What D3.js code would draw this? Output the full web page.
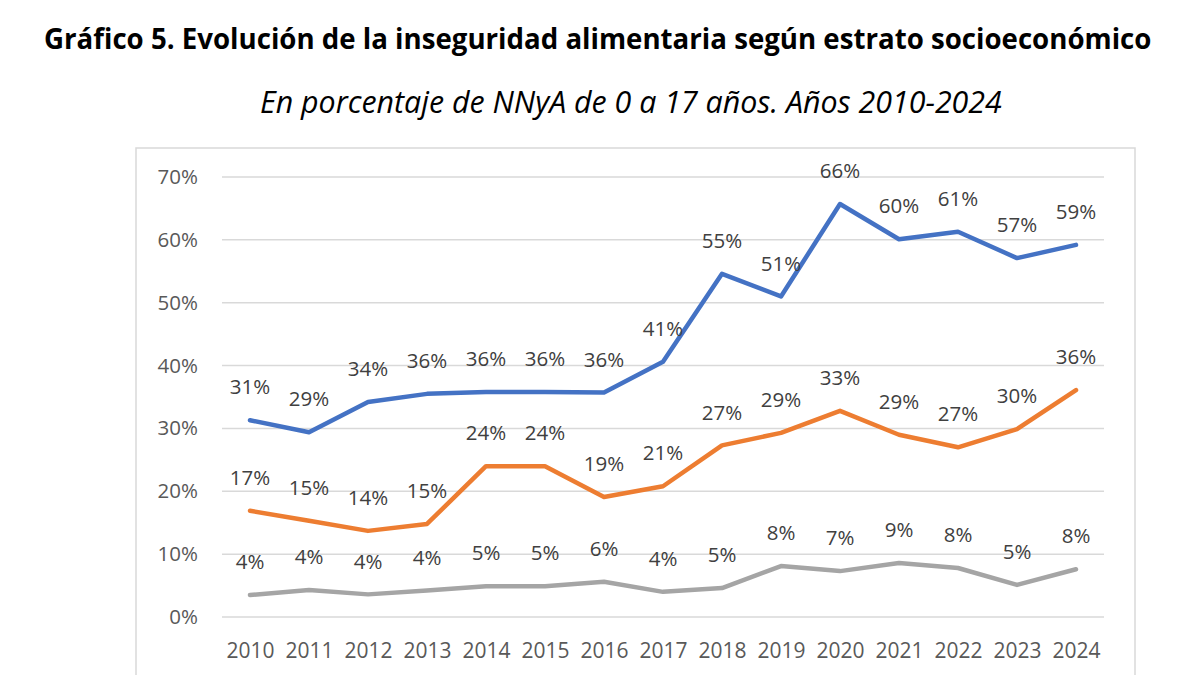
<!DOCTYPE html>
<html><head><meta charset="utf-8">
<script src="https://cdn.jsdelivr.net/npm/d3@7"></script>
<style>body{margin:0;background:#fff}svg{display:block}</style>
</head><body>
<svg id="c" width="1200" height="675"></svg>
<script>
const years = [2010,2011,2012,2013,2014,2015,2016,2017,2018,2019,2020,2021,2022,2023,2024];
const bajo  = [31.3,29.4,34.2,35.5,35.8,35.8,35.7,40.6,54.6,51.0,65.7,60.1,61.3,57.1,59.2];
const medio = [16.9,15.3,13.7,14.8,24.0,24.0,19.1,20.8,27.3,29.3,32.8,29.0,27.0,29.9,36.1];
const alto  = [3.5,4.3,3.6,4.2,4.9,4.9,5.6,4.0,4.6,8.1,7.3,8.6,7.8,5.1,7.6];
const yTicks = [0,10,20,30,40,50,60,70];
const title = "Gráfico 5. Evolución de la inseguridad alimentaria según estrato socioeconómico";
const subtitle = "En porcentaje de NNyA de 0 a 17 años. Años 2010-2024";

const series = [
  {name:"bajo", values:bajo, color:"#4472C4"},
  {name:"medio", values:medio, color:"#ED7D31"},
  {name:"alto", values:alto, color:"#A5A5A5"}
];

const svg = d3.select("#c");
const font = "'Open Sans', 'Noto Sans', sans-serif";

function fitText(sel, target){
  const w = sel.node().getComputedTextLength();
  const fs = parseFloat(sel.attr("font-size"));
  sel.attr("font-size", fs*target/w);
}
const t = svg.append("text").attr("x",44).attr("y",49).attr("font-family",font)
  .attr("font-weight","bold").attr("font-size",24).attr("fill","#000").text(title);
fitText(t, 1108);
const st = svg.append("text").attr("x",260).attr("y",113).attr("font-family",font)
  .attr("font-style","italic").attr("font-size",24).attr("fill","#000").text(subtitle);
fitText(st, 742);

// chart border
svg.append("rect").attr("x",136).attr("y",148).attr("width",999).attr("height",560)
  .attr("fill","none").attr("stroke","#d9d9d9").attr("stroke-width",1.5);

const x = d3.scalePoint().domain(years).range([250,1076]);
const y = d3.scaleLinear().domain([0,70]).range([617,177]);

// gridlines
svg.append("g").selectAll("line").data(yTicks).join("line")
  .attr("x1",222).attr("x2",1104).attr("y1",d=>y(d)).attr("y2",d=>y(d))
  .attr("stroke","#d9d9d9").attr("stroke-width",1.5);

// y axis labels
const yAxis = d3.axisLeft(y).tickValues(yTicks).tickFormat(d=>d+"%").tickSize(0).tickPadding(0);
const ya = svg.append("g").attr("transform","translate(198,0)").call(yAxis);
ya.select(".domain").remove();
ya.selectAll("text").attr("font-family",font).attr("font-size",20.5).attr("fill","#595959");

// x axis labels
const xAxis = d3.axisBottom(x).tickSize(0).tickPadding(0);
const xa = svg.append("g").attr("transform","translate(0,643)").call(xAxis);
xa.select(".domain").remove();
xa.selectAll("text").attr("font-family",font).attr("font-size",21).attr("fill","#595959").attr("dy","0.71em");

const line = d3.line().x((d,i)=>x(years[i])).y(d=>y(d));
svg.append("g").selectAll("path").data(series).join("path")
  .attr("d",d=>line(d.values)).attr("fill","none").attr("stroke",d=>d.color)
  .attr("stroke-width",4.5).attr("stroke-linejoin","round").attr("stroke-linecap","round");

// data labels
series.forEach(s=>{
  svg.append("g").selectAll("text").data(s.values).join("text")
    .attr("x",(d,i)=>x(years[i])).attr("y",d=>y(d)-33).attr("dy","0.35em")
    .attr("text-anchor","middle").attr("font-family",font).attr("font-size",20.5)
    .attr("fill","#404040").text(d=>Math.round(d)+"%");
});
</script>
</body></html>
